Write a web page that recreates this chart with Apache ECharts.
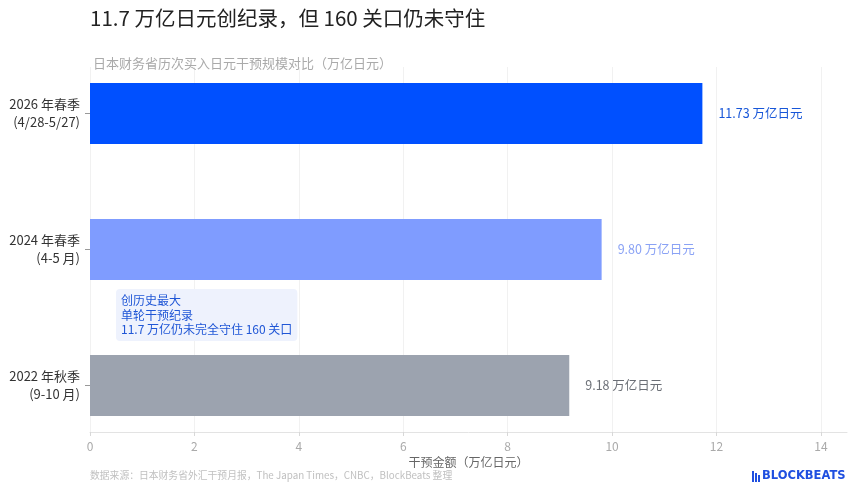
<!DOCTYPE html>
<html>
<head>
<meta charset="utf-8">
<script src="https://cdn.jsdelivr.net/npm/echarts@6/dist/echarts.min.js"></script>
<style>html,body{margin:0;padding:0;background:#fff}#c{width:860px;height:495px}</style>
</head>
<body>
<div id="c"></div>
<script>
// ---- data ----
var categories = ['2026 年春季\n(4/28-5/27)', '2024 年春季\n(4-5 月)', '2022 年秋季\n(9-10 月)'];
var values = [11.73, 9.80, 9.18];
var xTicks = [0, 2, 4, 6, 8, 10, 12, 14];
var barColors = ['#0050ff', '#7f9cff', '#9ca3af'];
var labelColors = ['#1756d8', '#8aa2f5', '#6b6f76'];
var noteLines = ['创历史最大', '单轮干预纪录', '11.7 万亿仍未完全守住 160 关口'];

var FONT = '"Noto Sans CJK SC", "Noto Sans", sans-serif';
var chart = echarts.init(document.getElementById('c'));

var barData = values.map(function (v, i) {
  return {
    value: v,
    itemStyle: { color: barColors[i] },
    label: { color: labelColors[i] }
  };
});

chart.setOption({
  backgroundColor: '#ffffff',
  textStyle: { fontFamily: FONT },
  title: [
    { text: '11.7 万亿日元创纪录，但 160 关口仍未守住', left: 85, top: 3,
      textStyle: { fontSize: 20.5, fontWeight: 'normal', color: '#222', fontFamily: FONT } },
    { text: '日本财务省历次买入日元干预规模对比（万亿日元）', left: 88, top: 52,
      textStyle: { fontSize: 13, fontWeight: 'normal', color: '#aaaaaa', fontFamily: FONT } }
  ],
  grid: [
    { left: 90, right: 13, top: 45.5, height: 408 },
    { left: 90, right: 13, top: 67, bottom: 63 }
  ],
  xAxis: [
    { gridIndex: 0, type: 'value', min: 0, max: 14.5, show: false },
    { gridIndex: 1, type: 'value', min: 0, max: 14.5, interval: 2,
      name: '干预金额（万亿日元）', nameLocation: 'middle', nameGap: 24,
      nameTextStyle: { color: '#666', fontSize: 12, fontFamily: FONT },
      axisLine: { show: true, lineStyle: { color: '#e3e3e3' } },
      axisTick: { show: true, length: 4, lineStyle: { color: '#d8d8d8' }, customValues: xTicks },
      axisLabel: { color: '#aaaaaa', fontSize: 12, margin: 8, customValues: xTicks },
      splitLine: { show: true, lineStyle: { color: '#f1f1f1' } } }
  ],
  yAxis: [
    { gridIndex: 0, type: 'category', data: categories, inverse: true,
      axisLine: { show: false },
      axisTick: { show: true, alignWithLabel: true, length: 5, lineStyle: { color: '#999' } },
      axisLabel: { color: '#333', fontSize: 13, lineHeight: 18, margin: 10, fontFamily: FONT },
      splitLine: { show: false } },
    { gridIndex: 1, type: 'value', min: 0, max: 1, show: false }
  ],
  series: [
    { type: 'bar', xAxisIndex: 0, yAxisIndex: 0, data: barData, barWidth: 61,
      label: { show: true, position: 'right', distance: 16, fontSize: 12.5, fontFamily: FONT,
        formatter: function (p) { return p.value.toFixed(2) + ' 万亿日元'; } } }
  ],
  graphic: [
    { type: 'text', left: 116, top: 289, z: 10,
      style: { text: noteLines.join('\n'), fill: '#1f56d6', fontSize: 12, lineHeight: 14.7,
        fontFamily: FONT, backgroundColor: '#eef2fd', borderRadius: 4, padding: [4, 5, 4, 5] } },
    { type: 'text', left: 90, top: 470,
      style: { text: '数据来源：日本财务省外汇干预月报，The Japan Times，CNBC，BlockBeats 整理',
        fill: '#c0c0c0', fontSize: 9.8, fontFamily: FONT } },
    { type: 'group', left: 752, top: 470, children: [
      { type: 'rect', shape: { x: 0, y: 1, width: 2, height: 11 }, style: { fill: '#1f4fe0' } },
      { type: 'rect', shape: { x: 3, y: 3, width: 2, height: 9 }, style: { fill: '#1f4fe0' } },
      { type: 'rect', shape: { x: 6, y: 5, width: 2, height: 7 }, style: { fill: '#1f4fe0' } },
      { type: 'text', x: 10, y: 0, style: { text: 'BLOCKBEATS', fill: '#1f4fe0', fontSize: 11.5,
        fontWeight: 'bold', fontFamily: '"DejaVu Sans", sans-serif' } }
    ] }
  ]
});
</script>
</body>
</html>
